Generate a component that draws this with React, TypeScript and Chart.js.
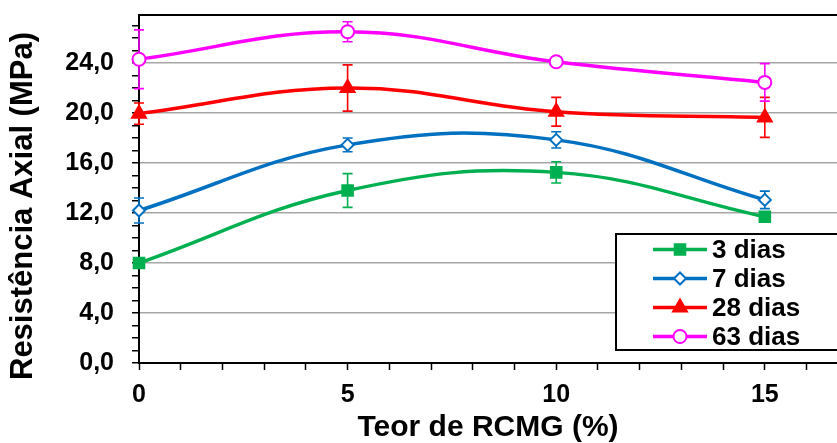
import React, { useEffect, useRef } from 'react';
import { Chart, registerables } from 'chart.js';

Chart.register(...registerables);

// ---- Data ----
const teor = [0, 5, 10, 15];
const seriesLabels = ['3 dias', '7 dias', '28 dias', '63 dias'];
const dias3 = [8.0, 13.8, 15.25, 11.7];
const dias7 = [12.2, 17.45, 17.85, 13.05];
const dias28 = [19.95, 22.0, 20.1, 19.65];
const dias63 = [24.3, 26.5, 24.1, 22.45];
const err3 = [0.2, 1.35, 0.85, 0.4];
const err7 = [1.0, 0.55, 0.65, 0.7];
const err28 = [0.85, 1.85, 1.15, 1.6];
const err63 = [2.35, 0.8, 0.2, 1.5];
const xTitle = 'Teor de RCMG (%)';
const yTitle = 'Resistência Axial (MPa)';

const FONT = "'Liberation Sans', Arial, Helvetica, sans-serif";

const colors = ['#00B050', '#0070C0', '#FF0000', '#FF00FF'];
const pointStyles = ['rect', 'rectRot', 'triangle', 'circle'];
const pointRadii = [7.5, 6, 8, 6.5];
const pointFills = ['#00B050', '#FFFFFF', '#FF0000', '#FFFFFF'];
const values = [dias3, dias7, dias28, dias63];
const errors = [err3, err7, err28, err63];

const errorBarPlugin = {
  id: 'errorBars',
  beforeDatasetsDraw(chart: any) {
    const { ctx } = chart;
    const xs = chart.scales.x;
    const ys = chart.scales.y;
    chart.data.datasets.forEach((ds: any) => {
      const errs: number[] = ds.errorValues;
      ctx.save();
      ctx.strokeStyle = ds.borderColor;
      ctx.lineWidth = 1.6;
      ds.data.forEach((p: any, i: number) => {
        const e = errs[i];
        const px = xs.getPixelForValue(p.x);
        const top = ys.getPixelForValue(p.y + e);
        const bot = ys.getPixelForValue(p.y - e);
        ctx.beginPath();
        ctx.moveTo(px, top);
        ctx.lineTo(px, bot);
        ctx.moveTo(px - 5, top);
        ctx.lineTo(px + 5, top);
        ctx.moveTo(px - 5, bot);
        ctx.lineTo(px + 5, bot);
        ctx.stroke();
      });
      ctx.restore();
    });
  },
};

const framePlugin = {
  id: 'frameAndTitles',
  afterDraw(chart: any) {
    const { ctx, chartArea } = chart;
    ctx.save();
    // top border of the plot area
    ctx.strokeStyle = '#000';
    ctx.lineWidth = 2;
    ctx.beginPath();
    ctx.moveTo(chartArea.left - 1, chartArea.top);
    ctx.lineTo(chartArea.right + 2, chartArea.top);
    ctx.stroke();

    // y axis title
    ctx.fillStyle = '#000';
    ctx.font = `bold 31px ${FONT}`;
    ctx.textAlign = 'center';
    ctx.textBaseline = 'middle';
    ctx.translate(23, 206);
    ctx.rotate(-Math.PI / 2);
    ctx.fillText(yTitle, 0, 0);
    ctx.restore();

    // legend
    ctx.save();
    const boxL = 616, boxT = 234, boxW = 260, boxH = 116;
    ctx.fillStyle = '#FFFFFF';
    ctx.fillRect(boxL, boxT, boxW, boxH);
    ctx.strokeStyle = '#000';
    ctx.lineWidth = 2;
    ctx.strokeRect(boxL, boxT, boxW, boxH);
    chart.data.datasets.forEach((ds: any, i: number) => {
      const ry = 249.5 + i * 29;
      ctx.strokeStyle = ds.borderColor;
      ctx.lineWidth = 3.5;
      ctx.beginPath();
      ctx.moveTo(653, ry);
      ctx.lineTo(707, ry);
      ctx.stroke();
      ctx.fillStyle = ds.pointBackgroundColor;
      ctx.strokeStyle = ds.borderColor;
      ctx.lineWidth = 2;
      const r = ds.pointRadius;
      ctx.beginPath();
      const st = ds.pointStyle;
      const cx = 680;
      if (st === 'rect') {
        const s = r * Math.SQRT1_2;
        ctx.rect(cx - s, ry - s, 2 * s, 2 * s);
      } else if (st === 'rectRot') {
        ctx.moveTo(cx - r, ry);
        ctx.lineTo(cx, ry - r);
        ctx.lineTo(cx + r, ry);
        ctx.lineTo(cx, ry + r);
        ctx.closePath();
      } else if (st === 'triangle') {
        for (let k = 0; k < 3; k++) {
          const a = (k * 2 * Math.PI) / 3;
          const px = cx + Math.sin(a) * r;
          const py = ry - Math.cos(a) * r;
          if (k === 0) ctx.moveTo(px, py);
          else ctx.lineTo(px, py);
        }
        ctx.closePath();
      } else {
        ctx.arc(cx, ry, r, 0, Math.PI * 2);
      }
      ctx.fill();
      ctx.stroke();
      ctx.fillStyle = '#000';
      ctx.font = `bold 26px ${FONT}`;
      ctx.textAlign = 'left';
      ctx.textBaseline = 'middle';
      ctx.fillText(ds.label, 712, ry + 1);
    });
    ctx.restore();
  },
};

export default function App() {
  const ref = useRef<HTMLCanvasElement>(null);

  useEffect(() => {
    if (!ref.current) return;
    const datasets = seriesLabels.map((label, i) => ({
      label,
      data: teor.map((x, j) => ({ x, y: values[i][j] })),
      errorValues: errors[i],
      borderColor: colors[i],
      backgroundColor: colors[i],
      pointBackgroundColor: pointFills[i],
      pointBorderColor: colors[i],
      pointBorderWidth: 2,
      pointStyle: pointStyles[i],
      pointRadius: pointRadii[i],
      pointHoverRadius: pointRadii[i],
      borderWidth: 3.5,
      tension: 0.4,
      fill: false,
      clip: false,
    }));

    const chart = new Chart(ref.current, {
      type: 'line',
      data: { datasets },
      plugins: [errorBarPlugin, framePlugin],
      options: {
        responsive: false,
        animation: false,
        maintainAspectRatio: false,
        layout: { autoPadding: false, padding: { top: 15, left: 0, right: 0, bottom: 0 } },
        plugins: {
          legend: { display: false },
          tooltip: { enabled: false },
        },
        scales: {
          x: {
            type: 'linear',
            min: 0,
            max: 16.73,
            afterFit: (scale: any) => {
              scale.height = 80;
              scale.paddingLeft = 0;
              scale.paddingRight = 0;
            },
            border: { display: true, color: '#000', width: 2 },
            grid: {
              drawOnChartArea: false,
              drawTicks: true,
              tickLength: 7,
              tickColor: '#000',
              tickWidth: 1.5,
            },
            ticks: {
              stepSize: 1,
              autoSkip: false,
              includeBounds: false,
              maxRotation: 0,
              padding: 10,
              color: '#000',
              font: { family: FONT, size: 25, weight: 'bold' },
              callback: (v: any) => (Number(v) % 5 === 0 ? String(v) : ''),
            },
            title: {
              display: true,
              text: xTitle,
              color: '#000',
              font: { family: FONT, size: 30, weight: 'bold', lineHeight: 1 },
              padding: { top: 0, bottom: 0 },
            },
          },
          y: {
            type: 'linear',
            min: 0,
            max: 27.84,
            afterFit: (scale: any) => {
              scale.width = 139;
              scale.paddingTop = 0;
              scale.paddingBottom = 0;
            },
            border: { display: true, color: '#000', width: 2 },
            grid: {
              drawOnChartArea: true,
              drawTicks: true,
              tickLength: 7,
              tickColor: '#000',
              tickWidth: 1.5,
              lineWidth: 1.5,
              color: (c: any) =>
                c.tick && c.tick.value % 4 === 0 && c.tick.value > 0 ? '#A6A6A6' : 'rgba(0,0,0,0)',
            },
            ticks: {
              stepSize: 1,
              autoSkip: false,
              includeBounds: false,
              padding: 18,
              color: '#000',
              font: { family: FONT, size: 25, weight: 'bold' },
              callback: (v: any) =>
                Number(v) % 4 === 0 ? Number(v).toFixed(1).replace('.', ',') : '',
            },
            title: { display: false },
          },
        },
      } as any,
    });
    return () => chart.destroy();
  }, []);

  return (
    <div style={{ position: 'absolute', left: 0, top: 0, width: 837, height: 443, background: '#fff' }}>
      <canvas
        ref={ref}
        width={837}
        height={443}
        style={{ display: 'block', width: '837px', height: '443px' }}
      />
    </div>
  );
}
